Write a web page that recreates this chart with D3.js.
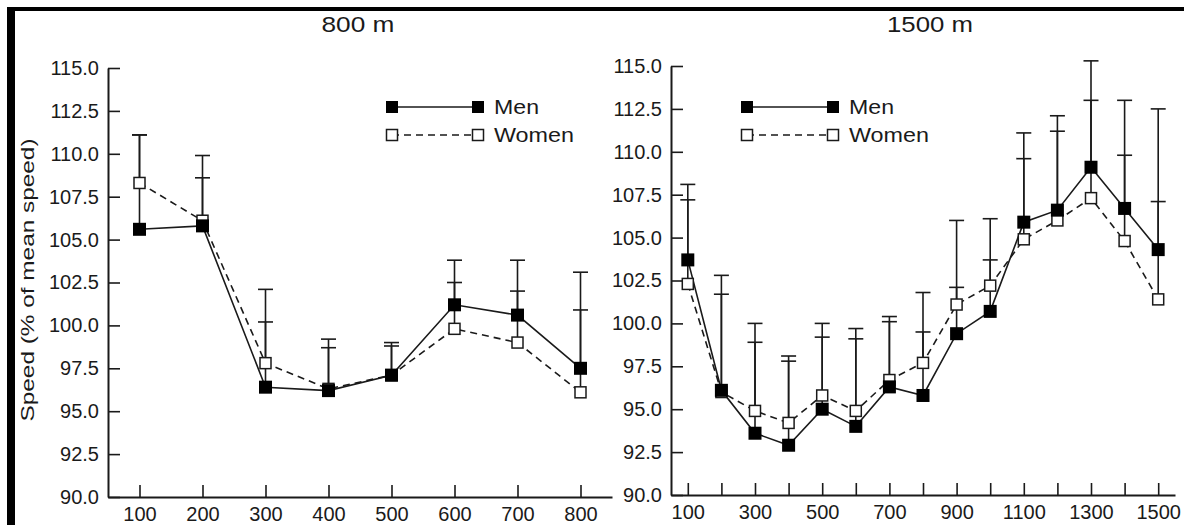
<!DOCTYPE html>
<html><head><meta charset="utf-8">
<script src="https://cdn.jsdelivr.net/npm/d3@7"></script>
<style>
body{margin:0;background:#fff}
svg{display:block}
text{font-family:"Liberation Sans",Arial,sans-serif;fill:#1a1a1a}
</style>
</head><body>
<svg id="c" width="1184" height="525"></svg>
<script>
// ---- data ----
const titles = ["800 m", "1500 m"];
const seriesNames = ["Men", "Women"];
const yTicks = [90, 92.5, 95, 97.5, 100, 102.5, 105, 107.5, 110, 112.5, 115];
const yLabel = "Speed (% of mean speed)";

const splits800 = [100, 200, 300, 400, 500, 600, 700, 800];
const men800 = [105.6, 105.8, 96.4, 96.2, 97.1, 101.2, 100.6, 97.5];
const women800 = [108.3, 106.1, 97.8, 96.3, 97.1, 99.8, 99.0, 96.1];
const menTop800 = [111.1, 109.9, 102.1, 99.2, 99.0, 103.8, 103.8, 103.1];
const womenTop800 = [111.1, 108.6, 100.2, 98.7, 98.8, 102.5, 102.0, 100.9];
const xLabels800 = [100, 200, 300, 400, 500, 600, 700, 800];

const splits1500 = [100, 200, 300, 400, 500, 600, 700, 800, 900, 1000, 1100, 1200, 1300, 1400, 1500];
const men1500 = [103.7, 96.1, 93.6, 92.9, 95.0, 94.0, 96.3, 95.8, 99.4, 100.7, 105.9, 106.6, 109.1, 106.7, 104.3];
const women1500 = [102.3, 96.0, 94.9, 94.2, 95.8, 94.9, 96.7, 97.7, 101.1, 102.2, 104.9, 106.0, 107.3, 104.8, 101.4];
const menTop1500 = [108.1, 102.8, 100.0, 98.1, 100.0, 99.7, 100.4, 101.8, 106.0, 106.1, 111.1, 112.1, 115.3, 113.0, 112.5];
const womenTop1500 = [107.2, 101.7, 98.9, 97.8, 99.2, 99.1, 100.1, 99.5, 102.1, 103.7, 109.6, 111.2, 113.0, 109.8, 107.1];
const xLabels1500 = [100, 300, 500, 700, 900, 1100, 1300, 1500];

// ---- drawing ----
const svg = d3.select("#c");
const INK = "#1a1a1a";

// frame
svg.append("rect").attr("x", 7).attr("y", 7).attr("width", 1177).attr("height", 4).attr("fill", "#000");
svg.append("rect").attr("x", 7).attr("y", 7).attr("width", 8).attr("height", 518).attr("fill", "#000");

function panel(cfg) {
  const x = d3.scaleLinear().domain(cfg.xDomain).range(cfg.xRange);
  const y = d3.scaleLinear().domain([90, 115]).range(cfg.yRange);
  const g = svg.append("g");

  // title
  g.append("text").attr("x", cfg.titleX).attr("y", 32).attr("text-anchor", "middle")
    .attr("font-size", 22).attr("textLength", cfg.titleLen).attr("lengthAdjust", "spacingAndGlyphs")
    .text(cfg.title);

  // y axis
  const ya = g.append("g").attr("transform", `translate(${cfg.xRange[0]},0)`)
    .call(d3.axisLeft(y).tickValues(yTicks).tickFormat(d3.format(".1f"))
      .tickSizeInner(-12).tickSizeOuter(0).tickPadding(9));
  // x axis
  const xa = g.append("g").attr("transform", `translate(0,${cfg.yRange[0]})`)
    .call(d3.axisBottom(x).tickValues(cfg.splits)
      .tickFormat(d => cfg.xLabels.includes(d) ? d : "")
      .tickSizeInner(-12).tickSizeOuter(0).tickPadding(10));
  [ya, xa].forEach(a => {
    a.attr("font-size", null).attr("font-family", null);
    a.selectAll("text").attr("font-size", 20).attr("fill", INK);
    a.select(".domain").attr("stroke", INK).attr("stroke-width", 2);
    a.selectAll(".tick line").attr("stroke", INK).attr("stroke-width", 1.6);
  });

  const pts = cfg.splits.map((s, i) => ({ s, m: cfg.men[i], w: cfg.women[i], mt: cfg.menTop[i], wt: cfg.womenTop[i] }));

  // error bars (upward)
  const eb = g.append("g").attr("stroke", INK).attr("stroke-width", 1.6);
  [["m", "mt"], ["w", "wt"]].forEach(([v, t]) => {
    eb.selectAll(null).data(pts).join("line")
      .attr("x1", d => x(d.s)).attr("x2", d => x(d.s))
      .attr("y1", d => y(d[v])).attr("y2", d => y(d[t]));
    eb.selectAll(null).data(pts).join("line")
      .attr("x1", d => x(d.s) - 7.5).attr("x2", d => x(d.s) + 7.5)
      .attr("y1", d => y(d[t])).attr("y2", d => y(d[t]));
  });

  // lines
  const line = key => d3.line().x(d => x(d.s)).y(d => y(d[key]));
  g.append("path").datum(pts).attr("d", line("w")).attr("fill", "none")
    .attr("stroke", INK).attr("stroke-width", 1.6).attr("stroke-dasharray", "7,5");
  g.append("path").datum(pts).attr("d", line("m")).attr("fill", "none")
    .attr("stroke", INK).attr("stroke-width", 1.6);

  // markers
  g.selectAll(null).data(pts).join("rect")
    .attr("x", d => x(d.s) - 5.5).attr("y", d => y(d.w) - 5.5).attr("width", 11).attr("height", 11)
    .attr("fill", "#fff").attr("stroke", INK).attr("stroke-width", 1.5);
  g.selectAll(null).data(pts).join("rect")
    .attr("x", d => x(d.s) - 6.5).attr("y", d => y(d.m) - 6.5).attr("width", 13).attr("height", 13)
    .attr("fill", "#000");

  // legend
  const lg = g.append("g");
  const lx0 = cfg.legX, lx1 = cfg.legX + 86;
  [[107, false], [135, true]].forEach(([ly, open], i) => {
    lg.append("line").attr("x1", lx0).attr("x2", lx1).attr("y1", ly).attr("y2", ly)
      .attr("stroke", INK).attr("stroke-width", 1.6).attr("stroke-dasharray", open ? "7,5" : null);
    [lx0, lx1].forEach(cx => {
      if (open) lg.append("rect").attr("x", cx - 5.5).attr("y", ly - 5.5).attr("width", 11).attr("height", 11)
        .attr("fill", "#fff").attr("stroke", INK).attr("stroke-width", 1.5);
      else lg.append("rect").attr("x", cx - 6).attr("y", ly - 6).attr("width", 12).attr("height", 12).attr("fill", "#000");
    });
    lg.append("text").attr("x", lx1 + 16).attr("y", ly).attr("dy", "0.35em").attr("font-size", 20)
      .attr("textLength", i === 0 ? 45 : 80).attr("lengthAdjust", "spacingAndGlyphs")
      .text(seriesNames[i]);
  });
}

panel({
  title: titles[0], titleX: 358, titleLen: 73,
  xDomain: [50, 850], xRange: [108, 612], yRange: [497, 68],
  splits: splits800, xLabels: xLabels800,
  men: men800, women: women800, menTop: menTop800, womenTop: womenTop800,
  legX: 392
});
panel({
  title: titles[1], titleX: 930, titleLen: 86,
  xDomain: [50, 1550], xRange: [671, 1175], yRange: [495, 66],
  splits: splits1500, xLabels: xLabels1500,
  men: men1500, women: women1500, menTop: menTop1500, womenTop: womenTop1500,
  legX: 747
});

// y label
svg.append("text").attr("transform", "translate(34,280) rotate(-90)")
  .attr("text-anchor", "middle").attr("font-size", 19)
  .attr("textLength", 283).attr("lengthAdjust", "spacingAndGlyphs")
  .text(yLabel);
</script>
</body></html>
